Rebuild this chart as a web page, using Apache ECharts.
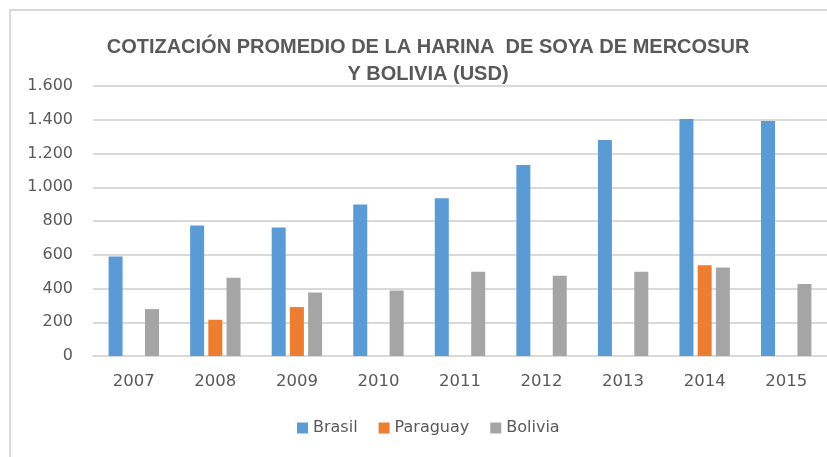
<!DOCTYPE html>
<html>
<head>
<meta charset="utf-8">
<script src="https://cdn.jsdelivr.net/npm/echarts@6/dist/echarts.min.js"></script>
<style>
  html, body { margin: 0; padding: 0; background: #fff; }
  #chart { width: 827px; height: 457px; }
</style>
</head>
<body>
<div id="chart"></div>
<script>
const years = ["2007", "2008", "2009", "2010", "2011", "2012", "2013", "2014", "2015"];
const brasil = [590, 773, 761, 898, 935, 1132, 1280, 1404, 1392];
const paraguay = [null, 215, 290, null, null, null, null, 538, null];
const bolivia = [278, 463, 376, 388, 500, 475, 500, 524, 426];
const yTicks = [0, 200, 400, 600, 800, 1000, 1200, 1400, 1600];

const chart = echarts.init(document.getElementById("chart"));
const textColor = "#595959";
const labelFont = "DejaVu Sans, sans-serif";

chart.setOption({
  animation: false,
  title: {
    text: "COTIZACIÓN PROMEDIO DE LA HARINA  DE SOYA DE MERCOSUR\nY BOLIVIA (USD)",
    left: 423,
    textAlign: "center",
    top: 29,
    textStyle: {
      color: textColor,
      fontFamily: "Liberation Sans, Arial, sans-serif",
      fontWeight: "bold",
      fontSize: 20,
      lineHeight: 27,
    },
  },
  graphic: [
    {
      type: "rect",
      shape: { x: 10, y: 10, width: 840, height: 470 },
      style: { fill: "none", stroke: "#d9d9d9", lineWidth: 2 },
      silent: true,
    },
  ],
  grid: {
    left: 93,
    right: -6,
    top: 86,
    bottom: 457 - 356,
  },
  legend: {
    top: 420,
    left: 297,
    padding: 0,
    itemWidth: 11,
    itemHeight: 11,
    itemGap: 21,
    icon: "rect",
    textStyle: { color: textColor, fontSize: 16, fontFamily: labelFont },
  },
  xAxis: {
    type: "category",
    data: years,
    axisLine: { show: true, lineStyle: { color: "#d9d9d9", width: 2 } },
    axisTick: { show: false },
    axisLabel: { color: textColor, fontSize: 16.5, margin: 17, fontFamily: labelFont },
  },
  yAxis: {
    type: "value",
    min: yTicks[0],
    max: yTicks[yTicks.length - 1],
    interval: 200,
    axisLine: { show: false },
    axisTick: { show: false },
    axisLabel: {
      color: textColor,
      fontSize: 16,
      margin: 20,
      fontFamily: labelFont,
      formatter: (v) => (v >= 1000 ? Math.floor(v / 1000) + "." + String(v % 1000).padStart(3, "0") : String(v)),
    },
    splitLine: { lineStyle: { color: "#d9d9d9", width: 2 } },
  },
  series: [
    {
      name: "Brasil",
      type: "bar",
      data: brasil,
      barWidth: 14,
      barGap: "30%",
      itemStyle: { color: "#5B9BD5" },
    },
    {
      name: "Paraguay",
      type: "bar",
      data: paraguay,
      barWidth: 14,
      itemStyle: { color: "#ED7D31" },
    },
    {
      name: "Bolivia",
      type: "bar",
      data: bolivia,
      barWidth: 14,
      itemStyle: { color: "#A5A5A5" },
    },
  ],
});
</script>
</body>
</html>
